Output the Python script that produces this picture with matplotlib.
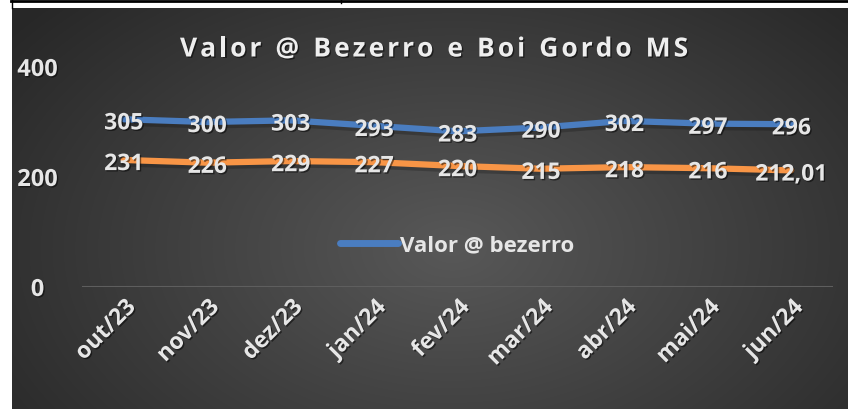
import numpy as np
import matplotlib
matplotlib.use("Agg")
import matplotlib.pyplot as plt
import matplotlib.patheffects as pe
from matplotlib.lines import Line2D

plt.rcParams['font.family'] = ['Open Sans', 'DejaVu Sans']

# data
months = ["out/23", "nov/23", "dez/23", "jan/24", "fev/24",
          "mar/24", "abr/24", "mai/24", "jun/24"]
bezerro = [305, 300, 303, 293, 283, 290, 302, 297, 296]
boi_gordo = [231, 226, 229, 227, 220, 215, 218, 216, 212.01]
yticks = [0, 200, 400]
title = "Valor @ Bezerro e Boi Gordo MS"

blue = "#4a7dc0"
orange = "#f89546"
txt = "#e6e6e6"

W, H = 848, 410
fig = plt.figure(figsize=(W / 100, H / 100), dpi=100)
fig.patch.set_facecolor("white")

# dark panel with radial gradient
bg = fig.add_axes([12 / W, 0, 1 - 12 / W, 401 / H])
bg.set_axis_off()
yy, xx = np.mgrid[0:401, 0:836]
cx, cy = 440, 240
r = np.sqrt(((xx - cx) / 560.0) ** 2 + ((yy - cy) / 360.0) ** 2)
r = np.clip(r, 0, 1)
light = np.array([0x58, 0x58, 0x58]) / 255
dark = np.array([0x27, 0x27, 0x27]) / 255
img = light[None, None, :] * (1 - r[..., None]) + dark[None, None, :] * r[..., None]
bg.imshow(img, aspect="auto", interpolation="bilinear")

# table borders above the chart
fig.add_artist(Line2D([11 / W, 1], [1 - 1.5 / H, 1 - 1.5 / H], color="black", lw=2))
fig.add_artist(Line2D([11.5 / W, 11.5 / W], [1 - 9 / H, 1], color="black", lw=1))
fig.add_artist(Line2D([341 / W, 341 / W], [1 - 4 / H, 1], color="black", lw=1))

ax = fig.add_axes([82 / W, (H - 288) / H, (833 - 82) / W, (288 - 68) / H])
ax.set_facecolor("none")
x = np.arange(len(months))

shadow_line = [pe.SimpleLineShadow(offset=(0, -2.5), shadow_color="black", alpha=0.2), pe.Normal()]
ax.plot(x, bezerro, color=blue, lw=4.5, solid_capstyle="round", path_effects=shadow_line,
        label="Valor @ bezerro", zorder=3)
ax.plot(x, boi_gordo, color=orange, lw=4.5, solid_capstyle="round", path_effects=shadow_line,
        zorder=3)

text_shadow = [pe.SimplePatchShadow(offset=(1, -1), shadow_rgbFace="black", alpha=0.5), pe.Normal()]


def fmt(v):
    if float(v).is_integer():
        return str(int(v))
    return f"{v:.2f}".replace(".", ",")


for series in (bezerro, boi_gordo):
    for xi, v in zip(x, series):
        ax.annotate(fmt(v), (xi, v), xytext=(0, -3), textcoords="offset points",
                    ha="center", va="center", fontsize=16.5, fontweight="bold",
                    color=txt, path_effects=text_shadow, zorder=5)

ax.set_xlim(-0.5, len(months) - 0.5)
ax.set_ylim(0, 400)
ax.set_yticks(yticks)
ax.set_yticklabels([str(t) for t in yticks], fontsize=17, fontweight="bold", color=txt,
                   ha="center")
ax.set_xticks(x)
ax.set_xticklabels(months, rotation=45, ha="right", rotation_mode="anchor",
                   fontsize=16.5, fontweight="bold", color=txt)
for lab in ax.get_xticklabels() + ax.get_yticklabels():
    lab.set_path_effects(text_shadow)
ax.tick_params(length=0)
ax.tick_params(axis="y", pad=32)
ax.tick_params(axis="x", pad=6)
for s in ax.spines.values():
    s.set_visible(False)
ax.axhline(0, color="#5e5e5e", lw=1.5, zorder=1)

leg = ax.legend(loc="center", bbox_to_anchor=(457 / W, (H - 246) / H),
                bbox_transform=fig.transFigure, frameon=False, handlelength=2.6,
                handletextpad=0.1, prop={"size": 16, "weight": "bold"})
for t in leg.get_texts():
    t.set_color(txt)
for h in leg.get_lines():
    h.set_linewidth(5)
    h.set_path_effects([])

# title with letter spacing, laid out char by char
renderer = fig.canvas.get_renderer()
x0, x1, ty = 180, 688, H - 50
chars = []
widths = []
for ch in title:
    t = fig.text(0, 0, ch, fontsize=19, fontweight="bold", color="#eeeeee",
                 va="center", ha="left", path_effects=text_shadow)
    chars.append(t)
    if ch == " ":
        widths.append(8.0)
    else:
        widths.append(t.get_window_extent(renderer).width)
gap = (x1 - x0 - sum(widths)) / (len(title) - 1)
pos = x0
for t, w in zip(chars, widths):
    t.set_position((pos / W, ty / H))
    pos += w + gap

fig.savefig("out.png", dpi=100, facecolor=fig.get_facecolor())
